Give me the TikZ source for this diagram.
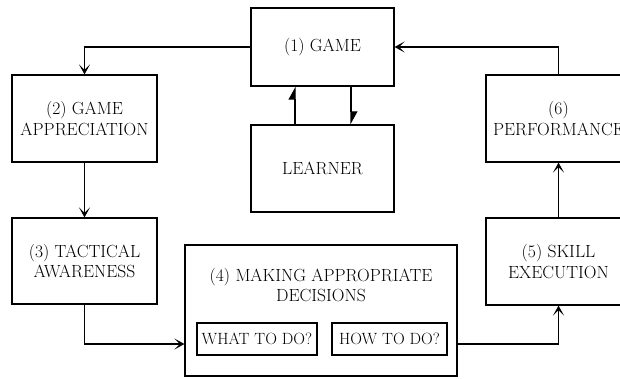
\documentclass[tikz,border=0pt]{standalone}
\usetikzlibrary{arrows.meta}
\begin{document}
\begin{tikzpicture}[x=1pt,y=-1pt,
  line width=1.2pt,
  every node/.style={font=\fontsize{17.6}{20.5}\selectfont, align=center, inner sep=0pt},
  box/.style={draw, minimum width=145pt, minimum height=87pt},
  smallbox/.style={draw, minimum height=32pt, font=\fontsize{16.3}{19}\selectfont},
  flow/.style={-{Stealth[length=10pt,width=11pt,inset=5.5pt]}},
  harp/.style={-{Triangle[harpoon,length=12pt,width=13pt]}}]
\useasboundingbox (0,0) rectangle (620,378);

% main boxes
\node[box, minimum width=143pt, minimum height=78pt] (game) at (322.5,47) {(1) GAME};
\node[box, minimum width=143pt] (learner) at (322.5,168.5) {LEARNER};
\node[box] (apprec) at (84.5,118.5) {(2) GAME\\APPRECIATION};
\node[box, minimum height=86pt] (tact) at (84.5,261) {(3) TACTICAL\\AWARENESS};
\node[box, minimum width=272pt, minimum height=131pt] (decide) at (321,310.5) {};
\node (decidetitle) at (321,285) {(4) MAKING APPROPRIATE\\DECISIONS};
\node[smallbox, minimum width=120pt] (what) at (257,339) {WHAT TO DO?};
\node[smallbox, minimum width=115pt] (how) at (389.5,339) {HOW TO DO?};
\node[box] (skill) at (558.5,261.5) {(5) SKILL\\EXECUTION};
\node[box] (perf) at (558.5,118.5) {(6)\\PERFORMANCE};

% positions of the two learner links and the lower route
\coordinate (upx) at (295,0);
\coordinate (downx) at (351,0);
\coordinate (lowy) at (0,344);

% connectors
\draw[flow] (game.west) -| (apprec.north);
\draw[flow] (apprec.south) -- (tact.north);
\draw[flow] (tact.south) |- (decide.west |- lowy);
\draw[flow] (decide.east |- lowy) -| (skill.south);
\draw[flow] (skill.north) -- (perf.north |- perf.south);
\draw[flow] (perf.north) |- (game.east);
\draw[harp] (learner.north -| upx) -- (game.south -| upx);
\draw[harp] (game.south -| downx) -- (learner.north -| downx);
\end{tikzpicture}
\end{document}
